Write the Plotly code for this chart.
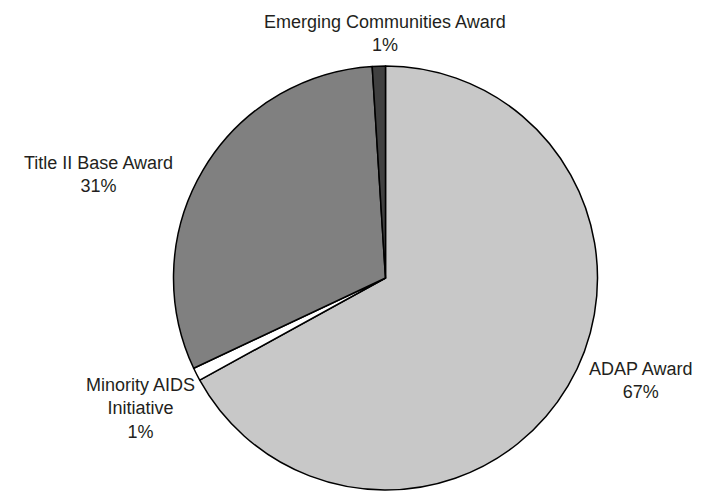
import plotly.graph_objects as go

# Award shares, clockwise from 12 o'clock
categories = ["ADAP Award", "Minority AIDS<br>Initiative", "Title II Base Award", "Emerging Communities Award"]
shares = [67, 1, 31, 1]
colors = ["#c8c8c8", "#ffffff", "#808080", "#404040"]

W, H = 716, 491

# label centres in pixels (x, y of the block's middle)
label_pos = [(640, 380), (140, 408), (98, 174), (385, 34)]

fig = go.Figure(go.Pie(
    labels=categories,
    values=shares,
    sort=False,
    direction="clockwise",
    rotation=0,
    textinfo="none",
    hoverinfo="label+percent",
    marker=dict(colors=colors, line=dict(color="#000000", width=1.5)),
    domain=dict(x=[173.5 / W, 597.5 / W], y=[1 / H, 425 / H]),
    showlegend=False,
))

for name, val, (px, py) in zip(categories, shares, label_pos):
    fig.add_annotation(
        x=px / W, y=1 - py / H, xref="paper", yref="paper",
        text=f"{name}<br>{val}%", showarrow=False,
        xanchor="center", yanchor="middle", align="center",
        font=dict(family="Liberation Sans, Arial, sans-serif", size=18, color="#231f20"),
    )

fig.update_layout(
    width=W, height=H,
    margin=dict(l=0, r=0, t=0, b=0),
    paper_bgcolor="white", plot_bgcolor="white",
)

fig.write_html("out.html")
